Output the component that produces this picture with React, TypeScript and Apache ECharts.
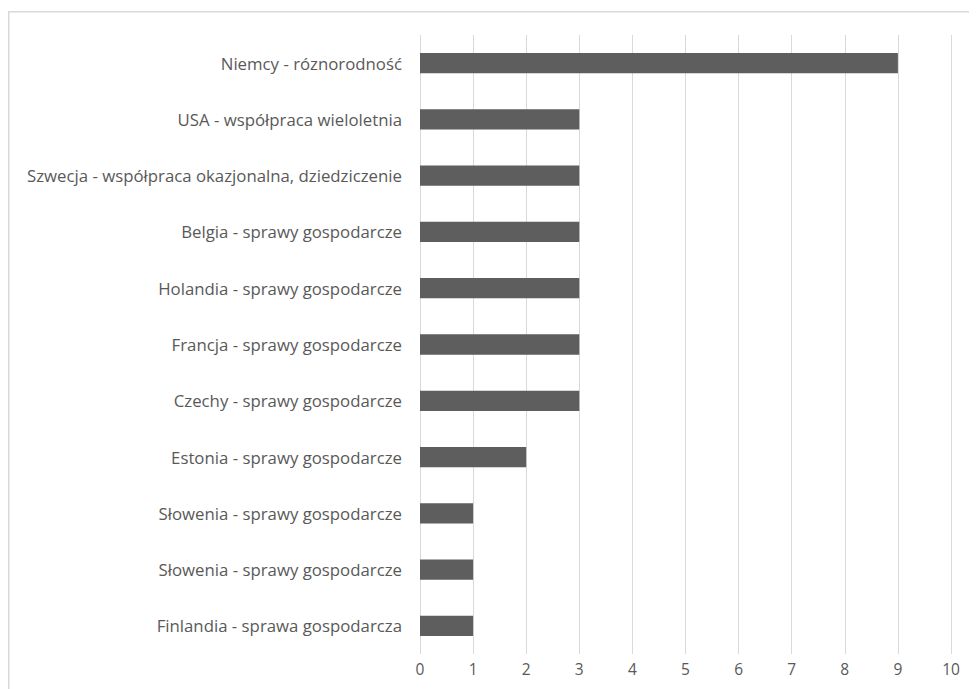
import React, { useEffect, useRef } from "react";
import * as echarts from "echarts";

// Categories listed top to bottom
const categories: string[] = [
  "Niemcy - róznorodność",
  "USA - współpraca wieloletnia",
  "Szwecja - współpraca okazjonalna, dziedziczenie",
  "Belgia - sprawy gospodarcze",
  "Holandia - sprawy gospodarcze",
  "Francja - sprawy gospodarcze",
  "Czechy - sprawy gospodarcze",
  "Estonia - sprawy gospodarcze",
  "Słowenia - sprawy gospodarcze",
  "Słowenia - sprawy gospodarcze",
  "Finlandia - sprawa gospodarcza",
];
const values: number[] = [9, 3, 3, 3, 3, 3, 3, 2, 1, 1, 1];
const xTicks: number[] = [0, 10, 1]; // min, max, interval

const FONT = "'Open Sans', 'Noto Sans', sans-serif";
const TEXT = "#595959";

export default function App() {
  const ref = useRef<HTMLDivElement>(null);
  useEffect(() => {
    if (!ref.current) return;
    const chart = echarts.init(ref.current, null, { renderer: "svg" });
    chart.setOption({
      animation: false,
      backgroundColor: "#ffffff",
      graphic: [
        {
          type: "rect",
          shape: { x: 0.75, y: 3.75, width: 1000, height: 1000 },
          style: { fill: "none", stroke: "#d9d9d9", lineWidth: 1.5 },
          silent: true,
        },
      ],
      grid: { left: 412, right: 26, top: 27, bottom: 35, containLabel: false },
      xAxis: {
        type: "value",
        min: xTicks[0],
        max: xTicks[1],
        interval: xTicks[2],
        axisLine: { show: false },
        axisTick: { show: false },
        axisLabel: { color: TEXT, fontFamily: FONT, fontSize: 15.5, margin: 7 },
        splitLine: { show: true, lineStyle: { color: "#d9d9d9", width: 1 } },
      },
      yAxis: {
        type: "category",
        inverse: true,
        data: categories,
        axisLine: { show: false },
        axisTick: { show: false },
        axisLabel: { color: TEXT, fontFamily: FONT, fontSize: 16.8, margin: 18 },
        splitLine: { show: false },
      },
      series: [
        {
          type: "bar",
          data: values,
          barWidth: "36%",
          itemStyle: { color: "#5e5e5e" },
        },
      ],
    });
    return () => chart.dispose();
  }, []);
  return <div ref={ref} style={{ width: 969, height: 681 }} />;
}
